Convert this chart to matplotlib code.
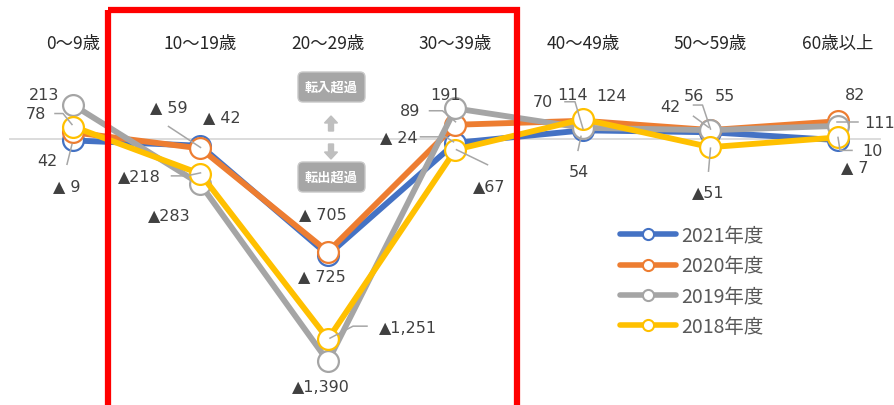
import matplotlib
matplotlib.use('Agg')
import matplotlib.pyplot as plt
import matplotlib.transforms as mtransforms
from matplotlib.lines import Line2D
from matplotlib.patches import Rectangle, FancyBboxPatch, FancyArrow

# age groups along the top
categories = ['0〜9歳', '10〜19歳', '20〜29歳', '30〜39歳', '40〜49歳', '50〜59歳', '60歳以上']

# net migration (negative = 転出超過)
fy2021 = [-9, -42, -725, -24, 54, 42, -7]
fy2020 = [42, -59, -705, 89, 114, 56, 111]
fy2019 = [213, -283, -1390, 191, 70, 55, 82]
fy2018 = [78, -218, -1251, -67, 124, -51, 10]

series_names = ['2021年度', '2020年度', '2019年度', '2018年度']
series_colors = ['#4472C4', '#ED7D31', '#A5A5A5', '#FFC000']
# the source used slightly different number formats per series
neg_prefix = ['▲ ', '▲ ', '▲', '▲']

# label offsets from each point, in pixels (dx right, dy down)
label_offsets = [
    [(-6, 45), (21, -29), (-6, 21), (-57, -6), (-4, 41), (-40, -26), (17, 26)],
    [(-26, 28), (-32, -42), (-5, -38), (-45, -14), (-10, -26), (-17, -35), (42, 1)],
    [(-29, -10), (-31, 30), (-7, 25), (-10, -14), (-40, -26), (14, -35), (17, -31)],
    [(-37, -13), (-61, 2), (80, -12), (34, 36), (29, -24), (-2, 44), (34, 13)],
]

# leader lines: (series, index, polyline offsets in px)
leaders = [
    (3, 0, [(-18, -13), (-10, -13), (-1, -2)]),
    (1, 0, [(-6, 32), (-1, 12)]),
    (1, 1, [(-32, -22), (0, -1)]),
    (3, 1, [(-29, 2), (-14, 2), (0, -1)]),
    (3, 2, [(39, -13), (25, -13), (2, -1)]),
    (1, 3, [(-26, -14), (-13, -14), (0, -3)]),
    (0, 3, [(-35, -6), (-10, -6), (-2, -1)]),
    (3, 3, [(32, 15), (1, 0)]),
    (1, 4, [(-18, -19), (-8, -19), (0, 8)]),
    (0, 4, [(-5, 20), (-2, 6)]),
    (1, 5, [(-17, -25), (-8, -25), (0, -1)]),
    (0, 5, [(-17, -16), (-2, -5)]),
    (3, 5, [(-2, 24), (0, 1)]),
    (1, 6, [(-1, 1), (20, 1)]),
    (3, 6, [(0, 0), (2, 13), (14, 13)]),
]


def fmt(v, prefix):
    if v < 0:
        return prefix + f'{abs(v):,}'
    return f'{v:,}'


W, H = 894, 406
fig = plt.figure(figsize=(W / 100, H / 100), dpi=100)
ax = fig.add_axes([0, 0, 1, 1])
ax.axis('off')
ax.set_xlim(-73 / 127.5, (W - 73) / 127.5)
ax.set_ylim(-(H - 140) / 0.16, 140 / 0.16)
ax.set_autoscale_on(False)

# pixel transform, origin at top-left
px = mtransforms.Affine2D().scale(1 / W, -1 / H).translate(0, 1) + fig.transFigure

ax.axhline(0, xmin=10 / W, xmax=880 / W, color='#D9D9D9', lw=1.3, zorder=1)

all_series = [fy2021, fy2020, fy2019, fy2018]
xs = list(range(len(categories)))
for k, (vals, col) in enumerate(zip(all_series, series_colors)):
    ax.plot(xs, vals, color=col, lw=4.2, marker='o', markersize=15,
            markerfacecolor='white', markeredgecolor=col, markeredgewidth=1.6,
            solid_capstyle='round', zorder=2 + k)

# leader lines
for k, i, pts in leaders:
    v = all_series[k][i]
    tr = (mtransforms.Affine2D().scale(1, -1)
          + mtransforms.ScaledTranslation(i, v, ax.transData))
    ax.add_line(Line2D([p[0] for p in pts], [p[1] for p in pts], transform=tr,
                       color='#A6A6A6', lw=1.1, zorder=7))

# data labels
for k, vals in enumerate(all_series):
    for i, v in enumerate(vals):
        dx, dy = label_offsets[k][i]
        ax.annotate(fmt(v, neg_prefix[k]), xy=(i, v), xytext=(dx, -dy),
                    textcoords='offset pixels', ha='center', va='center',
                    fontsize=11.5, color='#404040', family='DejaVu Sans', zorder=8)

# category labels along top
cat_trans = mtransforms.blended_transform_factory(ax.transData, ax.transAxes)
for i, c in enumerate(categories):
    ax.text(i, 1 - 44 / H, c, transform=cat_trans, ha='center', va='center',
            fontsize=12.5, color='#262626', family=['Noto Sans CJK JP', 'DejaVu Sans'])

# 転入超過 / 転出超過 tags with arrows
for cy, txt in [(88, '転入超過'), (178, '転出超過')]:
    ax.add_patch(FancyBboxPatch((298, cy - 15), 67, 30, boxstyle='round,pad=0,rounding_size=5',
                                transform=px, facecolor='#A6A6A6', edgecolor='#C8C8C8',
                                lw=1, zorder=6))
    ax.text(331.5, cy, txt, transform=px, ha='center', va='center', fontsize=9.5,
            color='white', fontweight='bold', family='Noto Sans CJK JP', zorder=7)
ax.add_patch(FancyArrow(331, 132, 0, -15, width=5, head_width=13, head_length=7,
                        length_includes_head=True, transform=px, color='#BFBFBF', zorder=6))
ax.add_patch(FancyArrow(331, 145, 0, 15, width=5, head_width=13, head_length=7,
                        length_includes_head=True, transform=px, color='#BFBFBF', zorder=6))

# red highlight frame for 10-39
ax.add_patch(Rectangle((108, 11), 409, 420, transform=px, fill=False,
                       edgecolor='#FF0000', lw=4.5, zorder=10, clip_on=False))

# legend
handles = [Line2D([], [], color=c, lw=4, marker='o', markersize=8,
                  markerfacecolor='white', markeredgecolor=c, markeredgewidth=1.5,
                  solid_capstyle='round')
           for c in series_colors]
leg = ax.legend(handles, series_names, loc='upper left',
                bbox_to_anchor=(620 / W, 1 - 226 / H), frameon=False,
                borderpad=0, borderaxespad=0, handlelength=2.9, handletextpad=0.25,
                labelspacing=0.48, prop={'family': 'Noto Sans CJK JP', 'size': 14})
for t in leg.get_texts():
    t.set_color('#595959')

fig.savefig('out.png', dpi=100)
